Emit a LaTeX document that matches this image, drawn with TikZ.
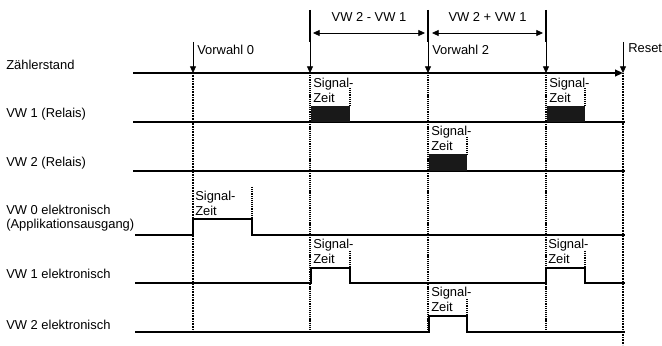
\documentclass[tikz,border=0pt]{standalone}
\usepackage{fontspec}
\setmainfont{Liberation Sans}
\usetikzlibrary{arrows.meta,positioning}

\begin{document}
\begin{tikzpicture}[
    x=0.75pt, y=-0.75pt,
    every node/.style={font=\fontsize{9.7}{11}\selectfont, inner sep=0pt},
    pegel/.style={line width=1.5pt},
    grenze/.style={line width=1.4pt, dash pattern=on 0.6pt off 0.6pt},
    grenzedünn/.style={line width=0.8pt, dash pattern=on 0.9pt off 0.7pt},
    zeitmarke/.style={line width=1pt, dash pattern=on 0.7pt off 0.7pt},
    zeiger/.style={line width=0.6pt, -{Triangle[length=5pt,width=4.5pt]}},
    mass/.style={line width=0.6pt, {Triangle[length=5pt,width=4.5pt]}-{Triangle[length=5pt,width=4.5pt]}},
    stab/.style={line width=1.2pt},
    zeit/.style={align=left, anchor=north west, font=\fontsize{9.7}{11.4}\selectfont}
]
\useasboundingbox (0,0) rectangle (662,346);

% Zeilenbeschriftung
\node[anchor=west] (zs) at (6,65) {Zählerstand};
\node[anchor=west] (r1) at (6,114) {VW 1 (Relais)};
\node[anchor=west] (r2) at (6,163) {VW 2 (Relais)};
\node[anchor=west, align=left] (e0l) at (6,218) {VW 0 elektronisch\\(Applikationsausgang)};
\node[anchor=west] (e1l) at (6,274) {VW 1 elektronisch};
\node[anchor=west] (e2l) at (6,325) {VW 2 elektronisch};

% Ereignisse
\foreach \n/\x in {0/193,1/310,2/428,3/546,4/623} {
    \coordinate (a\n) at (\x,42);
    \coordinate (e\n) at (\x,73);
    \coordinate (u\n) at (\x,332);
}
\coordinate (u4) at (623,345);
\coordinate (z0) at (133,73);
\foreach \n/\x in {1/310,2/428,3/546}
    \coordinate (o\n) at (\x,10);

% Bemaßung oben
\draw[stab] (o1) -- (a1);
\draw[stab] (o2) -- (a2);
\draw[stab] (o3) -- (a3);
\coordinate (m1) at (313,33);
\coordinate (m2) at (425,33);
\coordinate (m3) at (432,33);
\coordinate (m4) at (543,33);
\draw[mass] (m1) -- (m2) node[midway, above=8pt] (d1) {VW 2 - VW 1};
\draw[mass] (m3) -- (m4) node[midway, above=8pt] (d2) {VW 2 + VW 1};

% Zählerstand
\draw[pegel, -{Triangle[length=6pt,width=5pt]}] (z0) -- (e4);
\foreach \n in {0,...,4}
    \draw[zeiger] (a\n) -- (e\n);
\node[anchor=west] (v0) at (197,50) {Vorwahl 0};
\node[anchor=west] (v2) at (432,50) {Vorwahl 2};
\node[anchor=west] (rs) at (628,48) {Reset};

% Grenzlinien
\draw[grenze] (e0) -- (u0);
\draw[grenze] (e4) -- (u4);
\foreach \n in {1,2,3}
    \draw[grenzedünn] (e\n) -- (u\n);

% VW 1 (Relais)
\draw[pegel] (133,122) -- (625,122);
\fill[black!90] (311,106) rectangle (350,122);
\fill[black!90] (547,106) rectangle (585,122);
\node[zeit] (s1) at (313,78) {Signal-\\Zeit};
\node[zeit] (s2) at (549,78) {Signal-\\Zeit};
\draw[zeitmarke] (350,88) -- (350,106);
\draw[zeitmarke] (585,88) -- (585,106);

% VW 2 (Relais)
\draw[pegel] (133,171) -- (625,171);
\fill[black!90] (429,154) rectangle (467,171);
\node[zeit] (s3) at (431,126) {Signal-\\Zeit};
\draw[zeitmarke] (467,137) -- (467,154);

% VW 0 elektronisch
\draw[pegel] (135,235) -- (193,235) -- (193,219) -- (252,219) -- (252,235) -- (625,235);
\node[zeit] (s4) at (195,191) {Signal-\\Zeit};
\draw[zeitmarke] (252,187) -- (252,219);

% VW 1 elektronisch
\draw[pegel] (135,283) -- (311,283) -- (311,268) -- (350,268) -- (350,283)
    -- (546,283) -- (546,268) -- (585,268) -- (585,283) -- (625,283);
\node[zeit] (s5) at (313,239) {Signal-\\Zeit};
\node[zeit] (s6) at (548,239) {Signal-\\Zeit};
\draw[zeitmarke] (350,251) -- (350,268);
\draw[zeitmarke] (585,251) -- (585,268);

% VW 2 elektronisch
\draw[pegel] (135,332) -- (429,332) -- (429,316) -- (467,316) -- (467,332) -- (625,332);
\node[zeit] (s7) at (431,287) {Signal-\\Zeit};
\draw[zeitmarke] (467,299) -- (467,316);

\end{tikzpicture}
\end{document}
